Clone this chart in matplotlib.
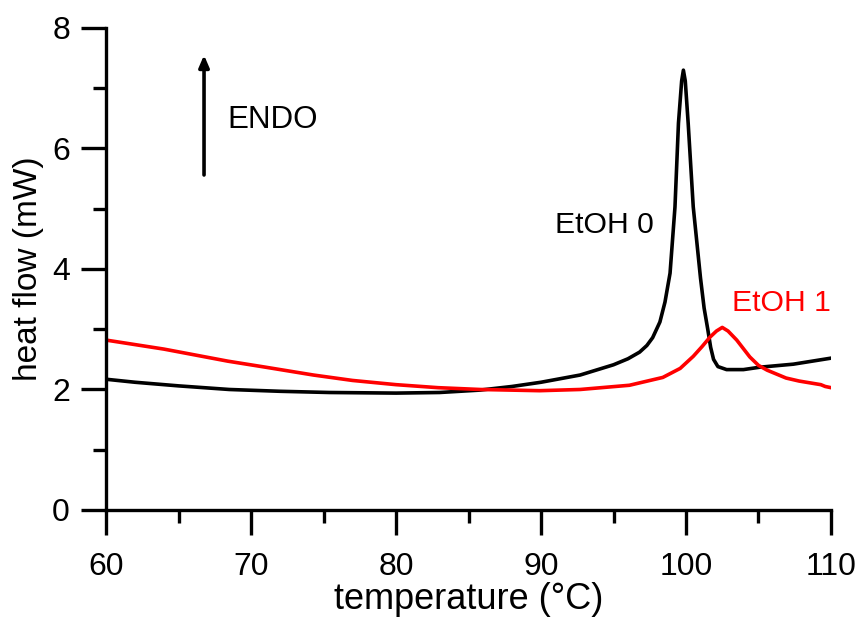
import matplotlib
matplotlib.use("Agg")
import matplotlib.pyplot as plt
from matplotlib.ticker import MultipleLocator

plt.rcParams['font.family'] = ['Liberation Sans', 'DejaVu Sans']

# EtOH 0 (black)
t0 = [60, 62, 65, 68.5, 72, 75.4, 80, 83, 85.8, 88, 90, 92.7, 95.0, 96.0, 96.8, 97.3, 97.7,
      98.2, 98.55, 98.9, 99.24, 99.48, 99.7, 99.82, 99.95, 100.15, 100.5, 101.0,
      101.25, 101.5, 101.7, 101.9, 102.2, 102.8, 103.96, 105.1, 107.4, 110]
h0 = [2.17, 2.12, 2.06, 2.00, 1.97, 1.95, 1.94, 1.95, 1.99, 2.05, 2.12, 2.24, 2.41, 2.51, 2.62, 2.73, 2.86,
      3.12, 3.45, 3.93, 5.03, 6.42, 7.12, 7.30, 7.12, 6.42, 5.03, 3.85,
      3.35, 3.0, 2.7, 2.5, 2.38, 2.33, 2.33, 2.37, 2.42, 2.52]

# EtOH 1 (red)
t1 = [60, 64, 68.4, 71, 74.3, 77, 80, 82.9, 85.8, 89.9, 92.7, 96.1, 98.4,
      99.6, 100.5, 101.1, 101.66, 102.1, 102.5, 102.9, 103.5, 104.4, 105.0, 105.6,
      106.9, 107.8, 108.8, 109.3, 109.6, 110]
h1 = [2.82, 2.67, 2.47, 2.37, 2.24, 2.15, 2.08, 2.03, 2.00, 1.98, 2.00, 2.07, 2.20,
      2.35, 2.55, 2.71, 2.87, 2.97, 3.03, 2.97, 2.82, 2.54, 2.40, 2.32,
      2.19, 2.14, 2.10, 2.08, 2.05, 2.03]

fig = plt.figure(figsize=(8.64, 6.30), dpi=100)
ax = fig.add_axes([0.1227, 0.1905, 0.8391, 0.7651])

ax.plot(t0, h0, color='black', lw=2.6, solid_joinstyle='round')
ax.plot(t1, h1, color='#ff0000', lw=2.6, solid_joinstyle='round')

ax.set_xlim(60, 110)
ax.set_ylim(0, 8)
ax.spines['top'].set_visible(False)
ax.spines['right'].set_visible(False)
for s in ('left', 'bottom'):
    ax.spines[s].set_linewidth(2.4)

ax.xaxis.set_major_locator(MultipleLocator(10))
ax.xaxis.set_minor_locator(MultipleLocator(5))
ax.yaxis.set_major_locator(MultipleLocator(2))
ax.yaxis.set_minor_locator(MultipleLocator(1))
ax.tick_params(which='major', direction='out', length=18, width=2.4, labelsize=23)
ax.tick_params(which='minor', direction='out', length=9.5, width=2.4)
ax.tick_params(axis='x', which='major', pad=12)
ax.tick_params(axis='y', which='major', pad=8)

ax.set_xlabel('temperature (°C)', fontsize=26, labelpad=0)
ax.set_ylabel('heat flow (mW)', fontsize=24, labelpad=6)

ax.annotate('', xy=(66.76, 7.55), xytext=(66.76, 5.56),
            arrowprops=dict(arrowstyle='-|>,head_length=0.7,head_width=0.3',
                            color='black', lw=2.6, shrinkA=0, shrinkB=0))
ax.text(68.4, 6.47, 'ENDO', fontsize=22.5, va='center', ha='left')
ax.text(90.97, 4.73, 'EtOH 0', fontsize=21.7, va='center', ha='left')
ax.text(103.17, 3.44, 'EtOH 1', fontsize=21.7, va='center', ha='left', color='#ff0000')

fig.savefig('out.png', dpi=100)
